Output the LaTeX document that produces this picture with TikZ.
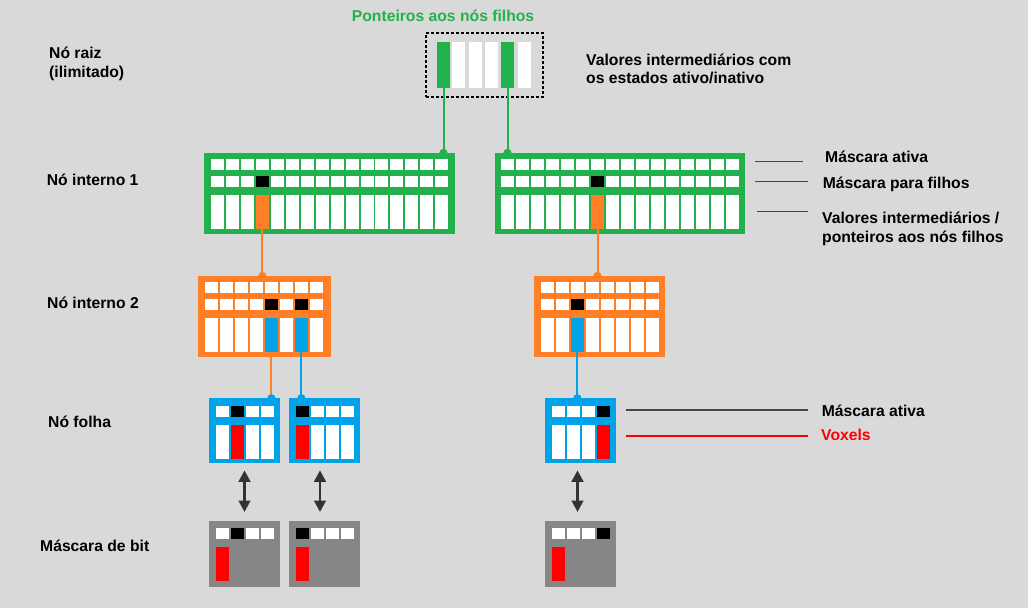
\documentclass[tikz,border=0pt]{standalone}
\usepackage{fontspec}
\setmainfont{Liberation Sans}
\usetikzlibrary{arrows.meta}
\definecolor{bg}{RGB}{217,217,217}
\definecolor{vgreen}{RGB}{34,177,76}
\definecolor{vorange}{RGB}{255,127,39}
\definecolor{vblue}{RGB}{0,162,232}
\definecolor{vred}{RGB}{255,0,0}
\definecolor{vgray}{RGB}{134,134,134}
\definecolor{varrow}{RGB}{51,51,51}
\definecolor{vlead}{RGB}{70,70,70}
% white cells: #1 x0, #2 last index, #3 pitch, #4 cell width, #5 ytop, #6 height
\newcommand\whitecells[6]{%
  \foreach \i in {0,...,#2}{\fill[white] ({#1+\i*#3},#5) rectangle ++(#4,#6);}}
\begin{document}
\begin{tikzpicture}[x=1pt,y=-1pt,
  lbl/.style={font=\fontsize{15.7}{19}\selectfont\bfseries, anchor=base west, inner sep=0},
  box/.style={anchor=north west, inner sep=0, outer sep=0},
  cell/.style={anchor=north west, inner sep=0, outer sep=0},
  conn/.style={line width=2pt},
  knob/.style={radius=4.2},
  lead/.style={line width=1.2pt, draw=vlead},
  dbl/.style={line width=2.8pt, draw=varrow, {Triangle[width=11.5pt,length=11.5pt]}-{Triangle[width=11.5pt,length=11.5pt]}}]
\useasboundingbox (0,0) rectangle (1028,608);
\fill[bg] (0,0) rectangle (1028,608);

% ---------- root node ----------
\node[box, draw=black, dash pattern=on 3pt off 2pt, line width=1.3pt, minimum width=117pt, minimum height=64pt] (root) at (426,33) {};
\node[cell, fill=vgreen, minimum width=13pt, minimum height=46pt] (g0) at (437,41.7) {};
\fill[white] (452,41.7) rectangle ++(13,46);
\fill[white] (469,41.7) rectangle ++(13,46);
\fill[white] (485,41.7) rectangle ++(13,46);
\node[cell, fill=vgreen, minimum width=13pt, minimum height=46pt] (g4) at (501,41.7) {};
\fill[white] (518,41.7) rectangle ++(13,46);

% ---------- internal node 1 ----------
\node[box, fill=vgreen, minimum width=251pt, minimum height=81pt] (n1L) at (204,153) {};
\whitecells{211}{15}{14.95}{13}{159}{11}
\whitecells{211}{15}{14.95}{13}{176}{11}
\whitecells{211}{15}{14.95}{13}{195}{33.7}
\fill[black] ({211+3*14.95},176) rectangle ++(13,11);
\node[cell, fill=vorange, minimum width=13pt, minimum height=33.7pt] (o1L) at ({211+3*14.95},195) {};

\node[box, fill=vgreen, minimum width=250pt, minimum height=81pt] (n1R) at (495,153) {};
\whitecells{501}{15}{15}{13}{159}{11}
\whitecells{501}{15}{15}{13}{176}{11}
\whitecells{501}{15}{15}{13}{195}{33.7}
\fill[black] ({501+6*15},176) rectangle ++(13,11);
\node[cell, fill=vorange, minimum width=13pt, minimum height=33.7pt] (o1R) at ({501+6*15},195) {};

% ---------- internal node 2 ----------
\node[box, fill=vorange, minimum width=132.5pt, minimum height=81pt] (n2L) at (198.3,276) {};
\whitecells{205}{7}{15}{12.7}{281.7}{11}
\whitecells{205}{7}{15}{12.7}{299}{11}
\whitecells{205}{7}{15}{12.7}{317.7}{34.6}
\fill[black] ({205+4*15},299) rectangle ++(12.7,11);
\fill[black] ({205+6*15},299) rectangle ++(12.7,11);
\node[cell, fill=vblue, minimum width=12.7pt, minimum height=34.6pt] (b2La) at ({205+4*15},317.7) {};
\node[cell, fill=vblue, minimum width=12.7pt, minimum height=34.6pt] (b2Lb) at ({205+6*15},317.7) {};

\node[box, fill=vorange, minimum width=131pt, minimum height=81pt] (n2R) at (534,276) {};
\whitecells{541}{7}{15}{12.7}{281.7}{11}
\whitecells{541}{7}{15}{12.7}{299}{11}
\whitecells{541}{7}{15}{12.7}{317.7}{34.6}
\fill[black] ({541+2*15},299) rectangle ++(12.7,11);
\node[cell, fill=vblue, minimum width=12.7pt, minimum height=34.6pt] (b2R) at ({541+2*15},317.7) {};

% ---------- leaf nodes ----------
\node[box, fill=vblue, minimum width=71pt, minimum height=65pt] (lf1) at (209,398.3) {};
\whitecells{216}{3}{15}{13}{406}{10.7}
\whitecells{216}{3}{15}{13}{425}{34}
\fill[black] ({216+1*15},406) rectangle ++(13,10.7);
\fill[vred] ({216+1*15},425) rectangle ++(13,34);

\node[box, fill=vblue, minimum width=71pt, minimum height=65pt] (lf2) at (289,398.3) {};
\whitecells{295.5}{3}{15}{13}{406}{10.7}
\whitecells{295.5}{3}{15}{13}{425}{34}
\fill[black] (295.5,406) rectangle ++(13,10.7);
\fill[vred] (295.5,425) rectangle ++(13,34);

\node[box, fill=vblue, minimum width=71pt, minimum height=65pt] (lf3) at (545,398.3) {};
\whitecells{551.7}{3}{15}{13}{406}{10.7}
\whitecells{551.7}{3}{15}{13}{425}{34}
\fill[black] ({551.7+3*15},406) rectangle ++(13,10.7);
\fill[vred] ({551.7+3*15},425) rectangle ++(13,34);

% ---------- bit masks ----------
\node[box, fill=vgray, minimum width=71pt, minimum height=66pt] (bm1) at (209,521) {};
\whitecells{216}{3}{15}{13}{527.7}{11.3}
\fill[black] ({216+1*15},527.7) rectangle ++(13,11.3);
\fill[vred] (216,546.7) rectangle ++(13,34.3);

\node[box, fill=vgray, minimum width=71pt, minimum height=66pt] (bm2) at (289,521) {};
\whitecells{295.5}{3}{15}{13}{527.7}{11.3}
\fill[black] (295.5,527.7) rectangle ++(13,11.3);
\fill[vred] (295.5,546.7) rectangle ++(13,34.3);

\node[box, fill=vgray, minimum width=71pt, minimum height=66pt] (bm3) at (545,521) {};
\whitecells{551.7}{3}{15}{13}{527.7}{11.3}
\fill[black] ({551.7+3*15},527.7) rectangle ++(13,11.3);
\fill[vred] (551.7,546.7) rectangle ++(13,34.3);

% ---------- connectors ----------
\draw[conn, vgreen] (g0.south) -- (g0.south |- n1L.north);
\fill[vgreen] (g0.south |- n1L.north) circle[knob];
\draw[conn, vgreen] (g4.south) -- (g4.south |- n1R.north);
\fill[vgreen] (g4.south |- n1R.north) circle[knob];

\draw[conn, vorange] (o1L.south) -- (o1L.south |- n2L.north);
\fill[vorange] (o1L.south |- n2L.north) circle[knob];
\draw[conn, vorange] (o1R.south) -- (o1R.south |- n2R.north);
\fill[vorange] (o1R.south |- n2R.north) circle[knob];

\draw[conn, vorange] (b2La.south) -- (b2La.south |- lf1.north);
\fill[vblue] (b2La.south |- lf1.north) circle[knob];
\draw[conn, vblue] (b2Lb.south) -- (b2Lb.south |- lf2.north);
\fill[vblue] (b2Lb.south |- lf2.north) circle[knob];
\draw[conn, vblue] (b2R.south) -- (b2R.south |- lf3.north);
\fill[vblue] (b2R.south |- lf3.north) circle[knob];

% ---------- double arrows ----------
\draw[dbl] ([yshift=-7pt]lf1.south) -- ([yshift=9pt]bm1.north);
\draw[dbl] ([xshift=-4.5pt,yshift=-7pt]lf2.south) -- ([xshift=-4.5pt,yshift=9pt]bm2.north);
\draw[dbl] ([xshift=-3pt,yshift=-7pt]lf3.south) -- ([xshift=-3pt,yshift=9pt]bm3.north);

% ---------- left labels ----------
\node[lbl] (tRaiz1) at (49,58.3) {Nó raiz};
\node[lbl] (tRaiz2) at (49,77.3) {(ilimitado)};
\node[lbl] (tInt1) at (46.7,185) {Nó interno 1};
\node[lbl] (tInt2) at (47,308.5) {Nó interno 2};
\node[lbl] (tFolha) at (48,427.5) {Nó folha};
\node[lbl] (tBit) at (40,551.5) {Máscara de bit};

% ---------- top labels ----------
\node[lbl, text=vgreen] (tPont) at (351.7,21) {Ponteiros aos nós filhos};
\node[lbl] (tVal1) at (586,65.7) {Valores intermediários com};
\node[lbl] (tVal2) at (586,83.5) {os estados ativo/inativo};

% ---------- right labels ----------
\node[lbl] (la1) at (825,162.7) {Máscara ativa};
\node[lbl] (la2) at (822.7,188) {Máscara para filhos};
\node[lbl] (la3) at (822,223.5) {Valores intermediários /};
\node[lbl] (la3b) at (822,242.5) {ponteiros aos nós filhos};
\node[lbl] (la4) at (821.7,416.5) {Máscara ativa};
\node[lbl, text=vred] (la5) at (821,440.7) {Voxels};

\coordinate (c1) at (755,161.7);
\coordinate (c2) at (755,181.7);
\coordinate (c3) at (757,211.7);
\coordinate (c4) at (626,410);
\coordinate (c5) at (626,436);
\draw[lead, shorten >=22pt] (c1) -- (c1 -| la1.west);
\draw[lead, shorten >=14.7pt] (c2) -- (c2 -| la2.west);
\draw[lead, shorten >=14pt] (c3) -- (c3 -| la3.west);
\draw[lead, shorten >=13.7pt] (c4) -- (c4 -| la4.west);
\draw[lead, draw=vred, shorten >=13pt] (c5) -- (c5 -| la5.west);
\end{tikzpicture}
\end{document}
